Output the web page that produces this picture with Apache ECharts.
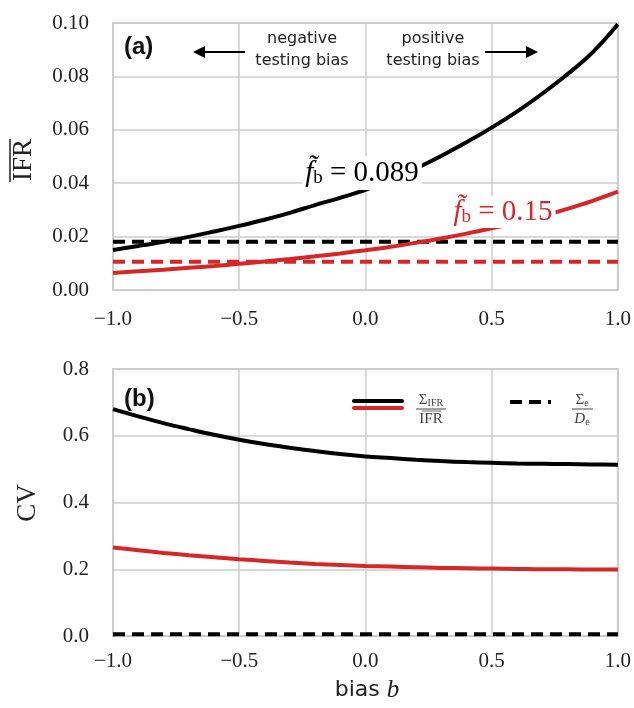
<!DOCTYPE html>
<html>
<head>
<meta charset="utf-8">
<script src="https://cdn.jsdelivr.net/npm/echarts@6/dist/echarts.min.js"></script>
<style>
	html, body { margin: 0; padding: 0; background: #fff; }
	#chart { width: 634px; height: 708px; }
</style>
</head>
<body>
<div id="chart"></div>
<script>
// bias b, sampled every 0.1
var bias = [-1.0, -0.9, -0.8, -0.7, -0.6, -0.5, -0.4, -0.3, -0.2, -0.1, 0.0, 0.1, 0.2, 0.3, 0.4, 0.5, 0.6, 0.7, 0.8, 0.9, 1.0];
// panel (a): mean IFR
var ifrBlack = [0.0150, 0.0165, 0.0181, 0.0199, 0.0219, 0.0240, 0.0263, 0.0289, 0.0318, 0.0345, 0.0375, 0.0412, 0.0455, 0.0502, 0.0553, 0.0608, 0.0668, 0.0735, 0.0808, 0.0890, 0.0995];
var ifrRed = [0.0064, 0.0070, 0.0076, 0.0083, 0.0090, 0.0098, 0.0107, 0.0116, 0.0126, 0.0137, 0.0149, 0.0162, 0.0177, 0.0193, 0.0211, 0.0231, 0.0253, 0.0277, 0.0304, 0.0334, 0.0368];
var ifrBlackDash = 0.0181;
var ifrRedDash = 0.0106;
// panel (b): coefficient of variation
var cvBlack = [0.680, 0.658, 0.638, 0.620, 0.603, 0.588, 0.575, 0.564, 0.554, 0.545, 0.538, 0.533, 0.528, 0.524, 0.521, 0.519, 0.517, 0.516, 0.515, 0.514, 0.513];
var cvRed = [0.265, 0.257, 0.249, 0.242, 0.236, 0.230, 0.225, 0.220, 0.216, 0.213, 0.210, 0.208, 0.206, 0.204, 0.203, 0.202, 0.201, 0.200, 0.200, 0.199, 0.199];
var cvDash = 0.005;

var RED = '#d62728';
var GRIDC = '#cccccc';
var SERIF = 'Liberation Serif';
var SANS = 'DejaVu Sans';

function pairs(ys) {
	var out = [];
	for (var i = 0; i < bias.length; i++) out.push([bias[i], ys[i]]);
	return out;
}
function flat(v) {
	return [[bias[0], v], [bias[bias.length - 1], v]];
}
function xFmt(v) {
	return (v < 0 ? '\u2212' : '') + Math.abs(v).toFixed(1);
}

function xAxisOf(idx, margin) {
	return {
		gridIndex: idx, type: 'value', min: -1, max: 1, interval: 0.5,
		axisLine: { show: false }, axisTick: { show: false },
		splitLine: { lineStyle: { color: GRIDC, width: 1.5 } },
		axisLabel: { formatter: xFmt, fontFamily: SERIF, fontSize: 21, color: '#222', margin: margin }
	};
}
function yAxisOf(idx, max, interval, digits) {
	return {
		gridIndex: idx, type: 'value', min: 0, max: max, interval: interval,
		axisLine: { show: false }, axisTick: { show: false },
		splitLine: { lineStyle: { color: GRIDC, width: 1.5 } },
		axisLabel: { formatter: function(v) { return v.toFixed(digits); }, fontFamily: SERIF, fontSize: 21, color: '#222', margin: 24 }
	};
}
function line(name, xi, data, color, dashed) {
	return {
		name: name, type: 'line', xAxisIndex: xi, yAxisIndex: xi,
		data: data, showSymbol: false, silent: true,
		smooth: dashed ? false : 0.4,
		lineStyle: { color: color, width: 4, type: dashed ? [12, 7] : 'solid' },
		z: dashed ? 3 : 4
	};
}

var chart = echarts.init(document.getElementById('chart'));
var option = {
	backgroundColor: '#ffffff',
	animation: false,
	grid: [
		{ left: 113, right: 14, top: 23, height: 267, show: true, borderColor: GRIDC, borderWidth: 2 },
		{ left: 113, right: 14, top: 369, height: 267, show: true, borderColor: GRIDC, borderWidth: 2 }
	],
	xAxis: [xAxisOf(0, 19), xAxisOf(1, 15)],
	yAxis: [yAxisOf(0, 0.1, 0.02, 2), yAxisOf(1, 0.8, 0.2, 1)],
	series: [
		line('ifr dash black', 0, flat(ifrBlackDash), '#000', true),
		line('ifr dash red', 0, flat(ifrRedDash), RED, true),
		line('ifr black', 0, pairs(ifrBlack), '#000', false),
		line('ifr red', 0, pairs(ifrRed), RED, false),
		line('cv dash', 1, flat(cvDash), '#000', true),
		line('cv black', 1, pairs(cvBlack), '#000', false),
		line('cv red', 1, pairs(cvRed), RED, false)
	],
	graphic: [
		// axis names
		{ type: 'text', x: 24, y: 160, rotation: Math.PI / 2, z: 10,
			style: { text: 'IFR', font: '27px "' + SERIF + '"', fill: '#222', align: 'center', verticalAlign: 'middle' } },
		{ type: 'line', z: 10, shape: { x1: 10, y1: 139, x2: 10, y2: 182 }, style: { stroke: '#222', lineWidth: 1.5 } },
		{ type: 'text', x: 28, y: 503, rotation: Math.PI / 2, z: 10,
			style: { text: 'CV', font: '27px "' + SERIF + '"', fill: '#222', align: 'center', verticalAlign: 'middle' } },
		{ type: 'text', x: 367, y: 690, z: 10,
			style: { text: '{s|bias }{i|b}', align: 'center', verticalAlign: 'middle',
				rich: { s: { fontFamily: SANS, fontSize: 22, fill: '#222' }, i: { fontFamily: SERIF, fontStyle: 'italic', fontSize: 25, fill: '#222' } } } },
		// panel tags
		{ type: 'text', x: 124, y: 47, z: 10,
			style: { text: '(a)', font: 'bold 24px "Liberation Sans"', fill: '#111', verticalAlign: 'middle' } },
		{ type: 'text', x: 124, y: 399, z: 10,
			style: { text: '(b)', font: 'bold 24px "Liberation Sans"', fill: '#111', verticalAlign: 'middle' } },
		// testing bias annotations
		{ type: 'text', x: 302, y: 50, z: 10,
			style: { text: 'negative\ntesting bias', font: '16px "' + SANS + '"', fill: '#222', align: 'center', verticalAlign: 'middle', lineHeight: 22 } },
		{ type: 'text', x: 433, y: 50, z: 10,
			style: { text: 'positive\ntesting bias', font: '16px "' + SANS + '"', fill: '#222', align: 'center', verticalAlign: 'middle', lineHeight: 22 } },
		{ type: 'line', z: 10, shape: { x1: 245, y1: 52, x2: 200, y2: 52 }, style: { stroke: '#000', lineWidth: 2 } },
		{ type: 'polygon', z: 10, shape: { points: [[193, 52], [205, 46], [205, 58]] }, style: { fill: '#000' } },
		{ type: 'line', z: 10, shape: { x1: 485, y1: 52, x2: 530, y2: 52 }, style: { stroke: '#000', lineWidth: 2 } },
		{ type: 'polygon', z: 10, shape: { points: [[538, 52], [526, 46], [526, 58]] }, style: { fill: '#000' } },
		// curve labels
		{ type: 'text', x: 362, y: 173, z: 10,
			style: { text: '{f|f\u0303}{b|b}{t| = 0.089}', align: 'center', verticalAlign: 'middle',
				backgroundColor: '#fff', padding: [2, 3, 2, 3],
				rich: { f: { fontFamily: SERIF, fontStyle: 'italic', fontSize: 29, fill: '#000' },
					b: { fontFamily: SERIF, fontSize: 19, fill: '#000', verticalAlign: 'bottom', padding: [11, 0, 0, 0] },
					t: { fontFamily: SERIF, fontSize: 29, fill: '#000' } } } },
		{ type: 'text', x: 503, y: 212, z: 10,
			style: { text: '{f|f\u0303}{b|b}{t| = 0.15}', align: 'center', verticalAlign: 'middle',
				backgroundColor: '#fff', padding: [1, 3, 1, 3],
				rich: { f: { fontFamily: SERIF, fontStyle: 'italic', fontSize: 29, fill: RED },
					b: { fontFamily: SERIF, fontSize: 19, fill: RED, verticalAlign: 'bottom', padding: [11, 0, 0, 0] },
					t: { fontFamily: SERIF, fontSize: 29, fill: RED } } } },
		// legend panel (b)
		{ type: 'line', z: 10, shape: { x1: 354, y1: 401, x2: 402, y2: 401 }, style: { stroke: '#000', lineWidth: 4, lineCap: 'round' } },
		{ type: 'line', z: 10, shape: { x1: 354, y1: 408, x2: 402, y2: 408 }, style: { stroke: RED, lineWidth: 4, lineCap: 'round' } },
		{ type: 'text', x: 431, y: 400, z: 10,
			style: { text: '{s|\u03a3}{u|IFR}', align: 'center', verticalAlign: 'middle',
				rich: { s: { fontFamily: SERIF, fontSize: 15, fill: '#444' }, u: { fontFamily: SERIF, fontSize: 10, fill: '#444', padding: [6, 0, 0, 0] } } } },
		{ type: 'line', z: 10, shape: { x1: 416, y1: 409, x2: 446, y2: 409 }, style: { stroke: '#444', lineWidth: 1 } },
		{ type: 'text', x: 431, y: 419, z: 10,
			style: { text: 'IFR', font: '15px "' + SERIF + '"', fill: '#444', align: 'center', verticalAlign: 'middle' } },
		{ type: 'line', z: 10, shape: { x1: 422, y1: 411, x2: 441, y2: 411 }, style: { stroke: '#444', lineWidth: 0.8 } },
		{ type: 'line', z: 10, shape: { x1: 510, y1: 402, x2: 551, y2: 402 }, style: { stroke: '#000', lineWidth: 4, lineDash: [12, 7] } },
		{ type: 'text', x: 582, y: 400, z: 10,
			style: { text: '{s|\u03a3}{u|e}', align: 'center', verticalAlign: 'middle',
				rich: { s: { fontFamily: SERIF, fontSize: 15, fill: '#444' }, u: { fontFamily: SERIF, fontSize: 10, fill: '#444', padding: [6, 0, 0, 0] } } } },
		{ type: 'line', z: 10, shape: { x1: 572, y1: 409, x2: 593, y2: 409 }, style: { stroke: '#444', lineWidth: 1 } },
		{ type: 'text', x: 582, y: 419, z: 10,
			style: { text: '{d|D}{u|e}', align: 'center', verticalAlign: 'middle',
				rich: { d: { fontFamily: SERIF, fontStyle: 'italic', fontSize: 15, fill: '#444' }, u: { fontFamily: SERIF, fontSize: 10, fill: '#444', padding: [6, 0, 0, 0] } } } }
	]
};
chart.setOption(option);
</script>
</body>
</html>
